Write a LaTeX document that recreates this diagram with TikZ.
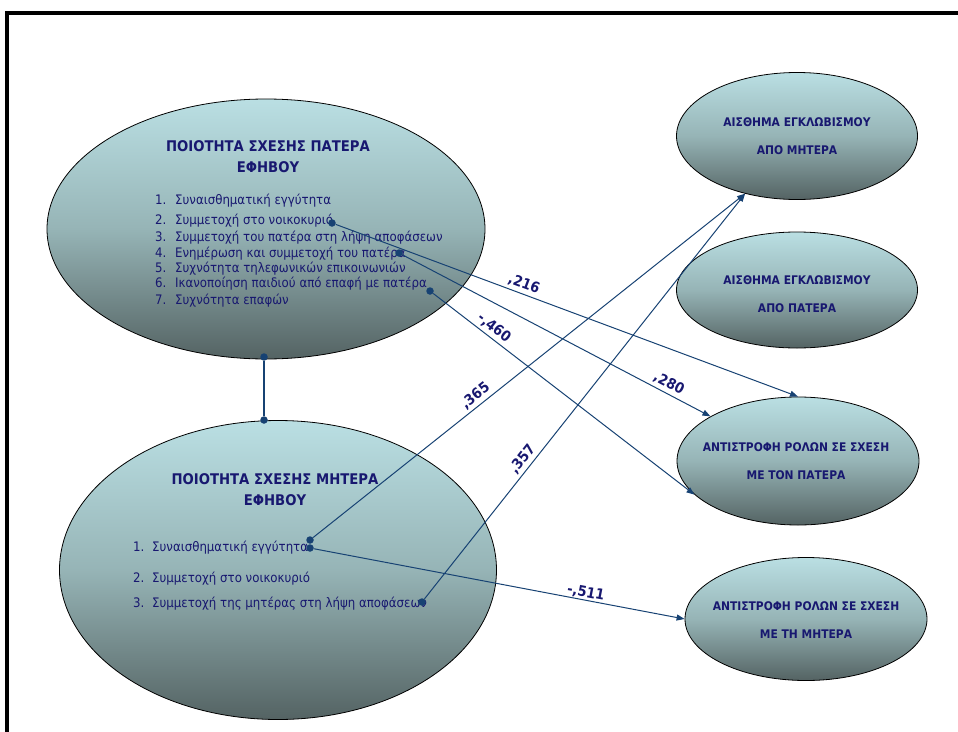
\documentclass[tikz,border=0pt]{standalone}
\usepackage{fontspec}
\setmainfont{DejaVu Sans}[FakeStretch=0.9]
\usetikzlibrary{shapes.geometric, arrows.meta}
\definecolor{navytext}{RGB}{24,24,112}
\definecolor{linecol}{RGB}{23,66,115}
\definecolor{topc}{RGB}{186,223,227}
\definecolor{midc}{RGB}{150,180,182}
\definecolor{botc}{RGB}{84,99,99}
\begin{document}
\begin{tikzpicture}[x=1pt, y=-1pt,
  oval/.style={ellipse, draw=black, line width=0.8pt, top color=topc, bottom color=botc, middle color=midc, inner sep=0pt},
  titletext/.style={font=\bfseries\fontsize{14.7}{21}\selectfont, text=navytext, align=center, inner sep=0pt},
  itemtext/.style={font=\fontsize{13.1}{15}\selectfont, text=navytext, anchor=base west, inner sep=0pt},
  rtext/.style={font=\bfseries\fontsize{11.9}{28}\selectfont, text=navytext, align=center, inner sep=0pt},
  enddot/.style={circle, fill=linecol, inner sep=0pt, minimum size=7.5pt},
  conn/.style={draw=linecol, line width=1pt, -{Triangle[length=8pt,width=6pt]}},
  wlabel/.style={font=\bfseries\fontsize{14.5}{14.5}\selectfont, text=navytext, sloped, above, inner sep=3pt}]
\useasboundingbox (0,0) rectangle (958,731);
\begin{scope}
\clip (0,0) rectangle (958,731);
\draw[line width=4pt] (7,760) -- (7,13) -- (990,13);
\end{scope}
% ellipses
\node[oval, minimum width=438pt, minimum height=260pt] (fa) at (266,229) {};
\node[oval, minimum width=437pt, minimum height=299pt] (mo) at (278,570) {};
\node[oval, minimum width=241pt, minimum height=127pt] (e1) at (797,136) {};
\node[oval, minimum width=241pt, minimum height=116pt] (e2) at (797,290) {};
\node[oval, minimum width=242pt, minimum height=128pt] (e3) at (798,461) {};
\node[oval, minimum width=242pt, minimum height=123pt] (e4) at (806,619) {};
% titles
\node[titletext] (fat) at (268,157) {ΠΟΙΟΤΗΤΑ ΣΧΕΣΗΣ ΠΑΤΕΡΑ\\ΕΦΗΒΟΥ};
\node[titletext] (mot) at (275,490) {ΠΟΙΟΤΗΤΑ ΣΧΕΣΗΣ ΜΗΤΕΡΑ\\ΕΦΗΒΟΥ};
\node[rtext] (e1t) at (797,136) {ΑΙΣΘΗΜΑ ΕΓΚΛΩΒΙΣΜΟΥ\\ΑΠΟ ΜΗΤΕΡΑ};
\node[rtext] (e2t) at (797,294) {ΑΙΣΘΗΜΑ ΕΓΚΛΩΒΙΣΜΟΥ\\ΑΠΟ ΠΑΤΕΡΑ};
\node[rtext] (e3t) at (796,461.5) {ΑΝΤΙΣΤΡΟΦΗ ΡΟΛΩΝ ΣΕ ΣΧΕΣΗ\\ΜΕ ΤΟΝ ΠΑΤΕΡΑ};
\node[rtext] (e4t) at (806,620) {ΑΝΤΙΣΤΡΟΦΗ ΡΟΛΩΝ ΣΕ ΣΧΕΣΗ\\ΜΕ ΤΗ ΜΗΤΕΡΑ};
% father list
\node[itemtext] (f1) at (155,204.5) {\makebox[20pt][l]{1.}Συναισθηματική εγγύτητα};
\node[itemtext] (f2) at (155,224.5) {\makebox[20pt][l]{2.}Συμμετοχή στο νοικοκυριό};
\node[itemtext] (f3) at (155,241.5) {\makebox[20pt][l]{3.}Συμμετοχή του πατέρα στη λήψη αποφάσεων};
\node[itemtext] (f4) at (155,257.5) {\makebox[20pt][l]{4.}Ενημέρωση και συμμετοχή του πατέρα};
\node[itemtext] (f5) at (155,272.5) {\makebox[20pt][l]{5.}Συχνότητα τηλεφωνικών επικοινωνιών};
\node[itemtext] (f6) at (155,287.5) {\makebox[20pt][l]{6.}Ικανοποίηση παιδιού από επαφή με πατέρα};
\node[itemtext] (f7) at (155,304.5) {\makebox[20pt][l]{7.}Συχνότητα επαφών};
% mother list
\node[itemtext] (m1) at (133,551.5) {\makebox[19pt][l]{1.}Συναισθηματική εγγύτητα};
\node[itemtext] (m2) at (133,582.5) {\makebox[19pt][l]{2.}Συμμετοχή στο νοικοκυριό};
\node[itemtext] (m3t) at (133,607.5) {\makebox[19pt][l]{3.}Συμμετοχή της μητέρας στη λήψη αποφάσεων};
% dots
\node[enddot] (d2) at (332,223) {};
\node[enddot] (d4) at (399,253) {};
\node[enddot] (d6) at (430,291) {};
\node[enddot] (m1a) at (310,540) {};
\node[enddot] (m1b) at (310,548) {};
\node[enddot] (m3) at (422,602) {};
\node[enddot] (la) at (264,357) {};
\node[enddot] (lb) at (264,420) {};
% connectors
\draw[linecol, line width=2.2pt] (la) -- (lb);
\draw[conn] (d2) -- (e3.north) node[wlabel,pos=0.40] (l216) {,216};
\draw[conn] (d4) -- (e3.153) node[wlabel,pos=0.85] (l280) {,280};
\draw[conn] (d6) -- (e3.198) node[wlabel,pos=0.21] (l460) {-,460};
\draw[conn] (m1a) -- (e1.228) node[wlabel,pos=0.39] (l365) {,365};
\draw[conn] (m3) -- (e1.228) node[wlabel,pos=0.33] (l357) {,357};
\draw[conn] (m1b) -- (e4.west) node[wlabel,pos=0.73,inner sep=0.5pt] (l511) {-,511};
\end{tikzpicture}
\end{document}
